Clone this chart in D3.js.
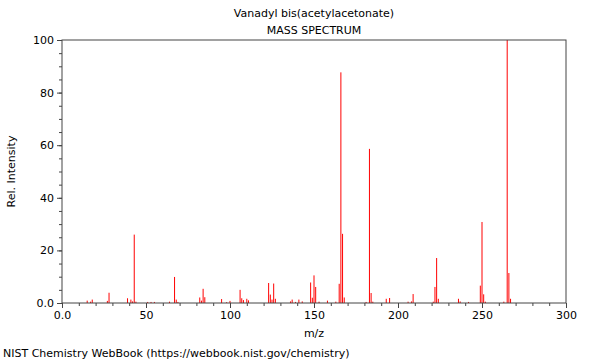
<!DOCTYPE html>
<html>
<head>
<meta charset="utf-8">
<script src="https://cdn.jsdelivr.net/npm/d3@7"></script>
<style>
  body { margin: 0; background: #fff; }
  svg { font-family: "DejaVu Sans", sans-serif; }
</style>
</head>
<body>
<svg width="600" height="360"></svg>
<script>
var title = "Vanadyl bis(acetylacetonate)";
var subtitle = "MASS SPECTRUM";
var footer = "NIST Chemistry WebBook (https://webbook.nist.gov/chemistry)";

var mz = [15, 17, 18, 27, 28, 39, 41, 42, 43, 44, 51, 53, 55, 64, 67, 68, 69,
  82, 83, 84, 85, 95, 98, 100, 106, 107, 108, 110, 111, 123, 124, 125, 126, 127,
  136, 137, 139, 141, 143, 148, 149, 150, 151, 153, 158, 163, 165, 166, 167, 168,
  181, 183, 184, 185, 193, 195, 206, 208, 209, 221, 222, 223, 224, 236, 237, 242,
  249, 250, 251, 252, 263, 265, 266, 267];
var intensity = [0.9, 0.5, 1.3, 0.8, 3.9, 1.8, 1.3, 0.6, 26.0, 0.5, 0.4, 0.4, 0.4, 0.5, 9.9, 1.3, 0.4,
  2.1, 0.9, 5.4, 2.2, 1.5, 0.3, 0.8, 5.0, 1.8, 1.1, 1.6, 1.0, 7.6, 3.2, 1.3, 7.4, 1.6,
  0.6, 1.3, 0.4, 1.3, 0.6, 7.8, 2.0, 10.5, 6.1, 0.5, 0.9, 0.5, 7.3, 87.7, 26.3, 2.1,
  0.4, 58.6, 3.8, 0.5, 1.6, 1.9, 0.5, 0.6, 3.4, 0.5, 6.1, 17.1, 1.6, 1.6, 0.6, 0.4,
  6.6, 30.8, 3.3, 0.5, 0.5, 100, 11.4, 1.6];
var xTicks = [0, 50, 100, 150, 200, 250, 300];
var yTicks = [0, 20, 40, 60, 80, 100];

var svg = d3.select("svg"),
    margin = {top: 40, right: 34, bottom: 57, left: 62},
    width = +svg.attr("width") - margin.left - margin.right,
    height = +svg.attr("height") - margin.top - margin.bottom;

var g = svg.append("g").attr("transform", "translate(" + margin.left + "," + margin.top + ")");

var x = d3.scaleLinear().domain([0, 300]).range([0, width]);
var y = d3.scaleLinear().domain([0, 100]).range([height, 0]);

var fmt = d => d === 0 ? "0.0" : String(d);

// minor ticks
g.append("g")
  .attr("transform", "translate(0," + height + ")")
  .call(d3.axisBottom(x).tickValues(d3.range(0, 301, 10)).tickSize(3).tickFormat(""))
  .call(a => a.select(".domain").remove());
g.append("g")
  .call(d3.axisLeft(y).tickValues(d3.range(0, 101, 5)).tickSize(3).tickFormat(""))
  .call(a => a.select(".domain").remove());

var xAxis = g.append("g")
  .attr("transform", "translate(0," + height + ")")
  .call(d3.axisBottom(x).tickValues(xTicks).tickSize(5).tickPadding(3).tickFormat(fmt));
var yAxis = g.append("g")
  .call(d3.axisLeft(y).tickValues(yTicks).tickSize(5).tickPadding(3).tickFormat(fmt));

svg.selectAll(".tick text").attr("font-size", 11).attr("fill", "#000")
  .attr("font-family", "DejaVu Sans, sans-serif");
svg.selectAll(".tick line").attr("stroke", "#444");
svg.selectAll(".domain").remove();

// peaks
g.append("g")
  .selectAll("line")
  .data(mz.map((m, i) => [m, intensity[i]]))
  .enter().append("line")
  .attr("x1", d => x(d[0]))
  .attr("x2", d => x(d[0]))
  .attr("y1", y(0))
  .attr("y2", d => y(d[1]))
  .attr("stroke", "#ff0000")
  .attr("stroke-width", 1);

// frame
g.append("rect")
  .attr("width", width)
  .attr("height", height)
  .attr("fill", "none")
  .attr("stroke", "#444")
  .attr("stroke-width", 1);

svg.append("text")
  .attr("x", margin.left + width / 2)
  .attr("y", 17)
  .attr("text-anchor", "middle")
  .attr("font-size", 11)
  .text(title);
svg.append("text")
  .attr("x", margin.left + width / 2)
  .attr("y", 34)
  .attr("text-anchor", "middle")
  .attr("font-size", 11)
  .text(subtitle);

svg.append("text")
  .attr("x", margin.left + width / 2)
  .attr("y", 337)
  .attr("text-anchor", "middle")
  .attr("font-size", 11)
  .text("m/z");

svg.append("text")
  .attr("transform", "translate(15," + (margin.top + height / 2) + ") rotate(-90)")
  .attr("text-anchor", "middle")
  .attr("font-size", 11)
  .text("Rel. Intensity");

svg.append("text")
  .attr("x", 3)
  .attr("y", 357)
  .attr("font-size", 11)
  .text(footer);
</script>
</body>
</html>
